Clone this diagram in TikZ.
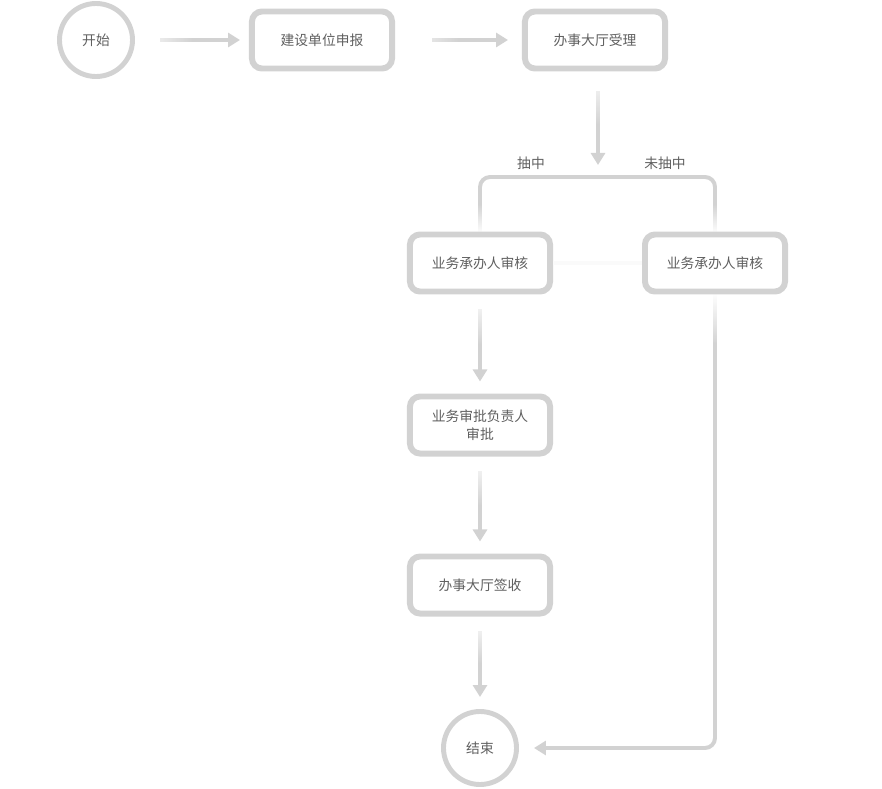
\documentclass[tikz,border=0pt]{standalone}
\usepackage{fontspec}
\setmainfont{Noto Sans CJK SC}
\usetikzlibrary{arrows.meta,fadings,positioning}

\definecolor{linegray}{RGB}{210,210,210}
\definecolor{textgray}{RGB}{95,95,95}

\tikzfading[name=fade from left, left color=transparent!100, right color=transparent!0, middle color=transparent!0]
\tikzfading[name=fade from top, top color=transparent!100, bottom color=transparent!0, middle color=transparent!0]
\tikzfading[name=fade to bottom, top color=transparent!0, bottom color=transparent!100, middle color=transparent!0]
\tikzfading[name=fade in top, top color=transparent!100, bottom color=transparent!0]

\begin{document}
\begin{tikzpicture}[x=0.025cm, y=-0.025cm,
    font=\fontsize{9.8}{12.8}\selectfont, text=textgray,
    stepbox/.style={draw=linegray, line width=4.25pt, rounded corners=0.25cm, fill=white,
        minimum width=3.5cm, minimum height=1.425cm, align=center, inner sep=0pt},
    endpoint/.style={circle, draw=linegray, line width=3.5pt, fill=white,
        minimum size=1.825cm, inner sep=0pt},
    flow/.style={draw=linegray, line width=2.8pt, -{Triangle[width=0.35cm, length=0.3cm]}},
    link/.style={draw=linegray, line width=2.8pt},
    fadeh/.style={path fading=fade from left, fading transform={yscale=6}},
    fadev/.style={path fading=fade from top, fading transform={xscale=6}}]
    \useasboundingbox (0,0) rectangle (882,789);

    % Start and end
    \node[endpoint] (start) at (96,40) {开始};
    \node[endpoint] (finish) at (480,748) {结束};

    % Steps
    \node[stepbox] (apply) at (322,40) {建设单位申报};
    \node[stepbox] (accept) at (595,40) {办事大厅受理};
    \node[stepbox] (check1) at (480,263) {业务承办人审核};
    \node[stepbox] (check2) at (715,263) {业务承办人审核};
    \node[stepbox] (approve) at (480,425) {业务审批负责人\\审批};
    \node[stepbox] (sign) at (480,585) {办事大厅签收};

    % Branch point and labels
    \coordinate (split) at (598,177);
    \node (drawn) at (531,163) {抽中};
    \node (notdrawn) at (665,163) {未抽中};

    % Top row
    \draw[flow, fadeh, shorten <=0.625cm, shorten >=0.225cm] (start) -- (apply);
    \draw[flow, fadeh, shorten <=0.925cm, shorten >=0.35cm] (apply) -- (accept);
    \draw[flow, fadev, shorten <=0.5cm, shorten >=0.3cm] (accept.south -| split) -- (split);

    % Branch
    \draw[link, rounded corners=0.25cm, path fading=fade to bottom] (split) -| (check1.north);
    \draw[link, rounded corners=0.25cm, path fading=fade to bottom] (split) -| (check2.north);
    \draw[draw=black!2, line width=2.8pt] (check1.east) -- (check2.west);

    % Left column
    \foreach \a/\b in {check1/approve, approve/sign, sign/finish} {
        \draw[flow, fadev, shorten <=0.375cm, shorten >=0.3cm] (\a) -- (\b);
    }

    % Right column back to the end
    \coordinate (bend) at ([yshift=-1.2cm]check2.south);
    \draw[link, path fading=fade in top] (check2.south) -- (bend);
    \draw[flow, rounded corners=0.25cm, shorten >=0.375cm] (bend) |- (finish);
\end{tikzpicture}
\end{document}
